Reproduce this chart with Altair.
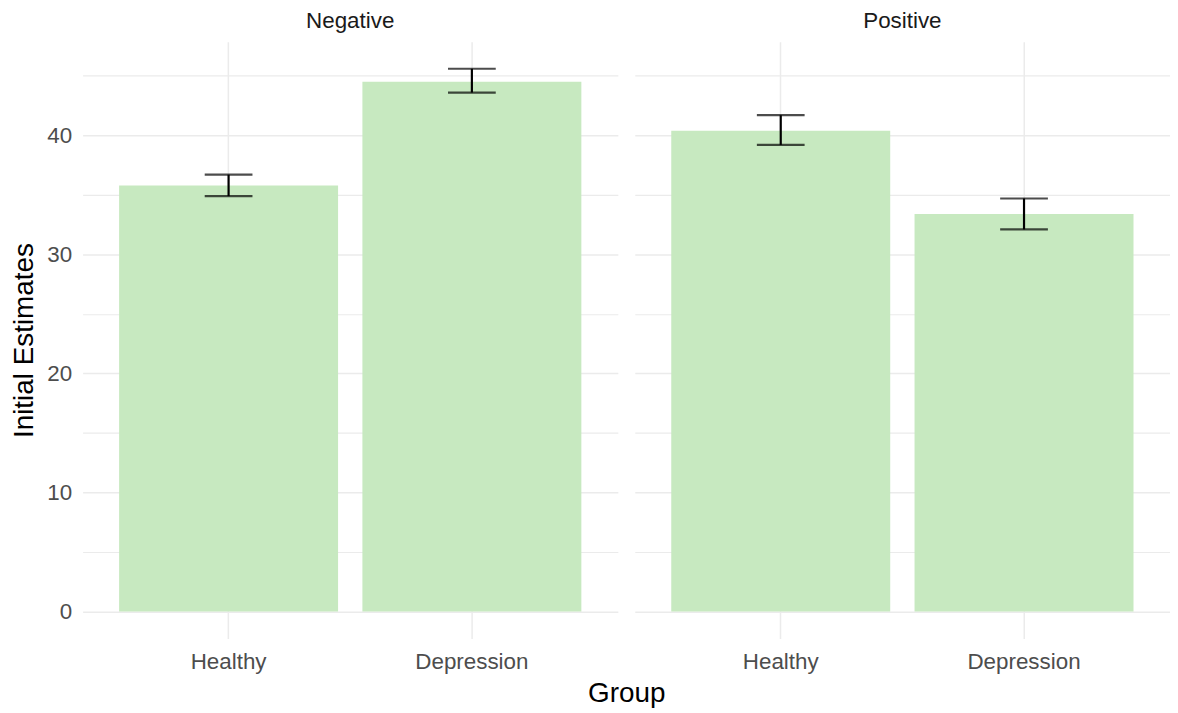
import altair as alt
import pandas as pd

conditions = ["Negative", "Negative", "Positive", "Positive"]
groups = ["Healthy", "Depression", "Healthy", "Depression"]
means = [35.8, 44.5, 40.4, 33.4]
lower = [34.9, 43.6, 39.2, 32.1]
upper = [36.7, 45.6, 41.7, 34.7]

df = pd.DataFrame({"condition": conditions, "group": groups,
                   "mean": means, "lower": lower, "upper": upper})

FONT = "Liberation Sans"
group_order = ["Healthy", "Depression"]

xenc = alt.X("group:N", sort=group_order,
             scale=alt.Scale(paddingInner=0.1, paddingOuter=0.15),
             axis=alt.Axis(title=None, grid=True, gridColor="#EBEBEB", gridWidth=1.5,
                           bandPosition=0.5, domain=False, ticks=False,
                           labelAngle=0, labelFontSize=22.5, labelColor="#4D4D4D",
                           labelPadding=12, labelFont=FONT))
yscale = alt.Scale(domain=[-2.28, 47.88], nice=False, zero=False)
yaxis = alt.Axis(title="Initial Estimates", values=[0, 5, 10, 15, 20, 25, 30, 35, 40, 45],
                 labelExpr="datum.value % 10 == 0 ? datum.label : ''",
                 grid=True, gridColor="#EBEBEB",
                 gridWidth={"condition": {"test": "datum.value % 10 == 0", "value": 1.5}, "value": 1.2},
                 domain=False, ticks=False, labelFontSize=22.5, labelColor="#4D4D4D",
                 labelPadding=11, labelFont=FONT, titleFont=FONT, titleFontSize=28,
                 titleFontWeight="normal", titleColor="#000000", titlePadding=8)

base = alt.Chart(df)
bars = base.mark_bar(color="#C7E9C0").encode(
    x=xenc,
    y=alt.Y("mean:Q", scale=yscale, axis=yaxis),
)
rule = base.mark_rule(color="black", strokeWidth=2.2).encode(
    x=alt.X("group:N", sort=group_order), y="lower:Q", y2="upper:Q")
cap_lo = base.mark_tick(color="black", thickness=2.2, size=48).encode(
    x=alt.X("group:N", sort=group_order), y="lower:Q")
cap_hi = base.mark_tick(color="black", thickness=2.2, size=48).encode(
    x=alt.X("group:N", sort=group_order), y="upper:Q")

layer = alt.layer(bars, rule, cap_lo, cap_hi).properties(width=538, height=600)

chart = layer.facet(
    column=alt.Column("condition:N", title="Group",
                      header=alt.Header(labelOrient="top", titleOrient="bottom",
                                        labelFontSize=22.5, labelColor="#1A1A1A", labelFont=FONT,
                                        labelPadding=9,
                                        titleFontSize=28, titleFontWeight="normal",
                                        titleColor="#000000", titleFont=FONT, titlePadding=-3)),
    spacing=17,
).configure(
    padding={"left": 2, "top": 0, "right": 0, "bottom": 0},
    view={"stroke": "transparent", "strokeWidth": 0},
    style={"cell": {"stroke": "transparent", "strokeWidth": 0}},
)

chart.save("out.html", embed_options={"renderer": "svg", "actions": False})
